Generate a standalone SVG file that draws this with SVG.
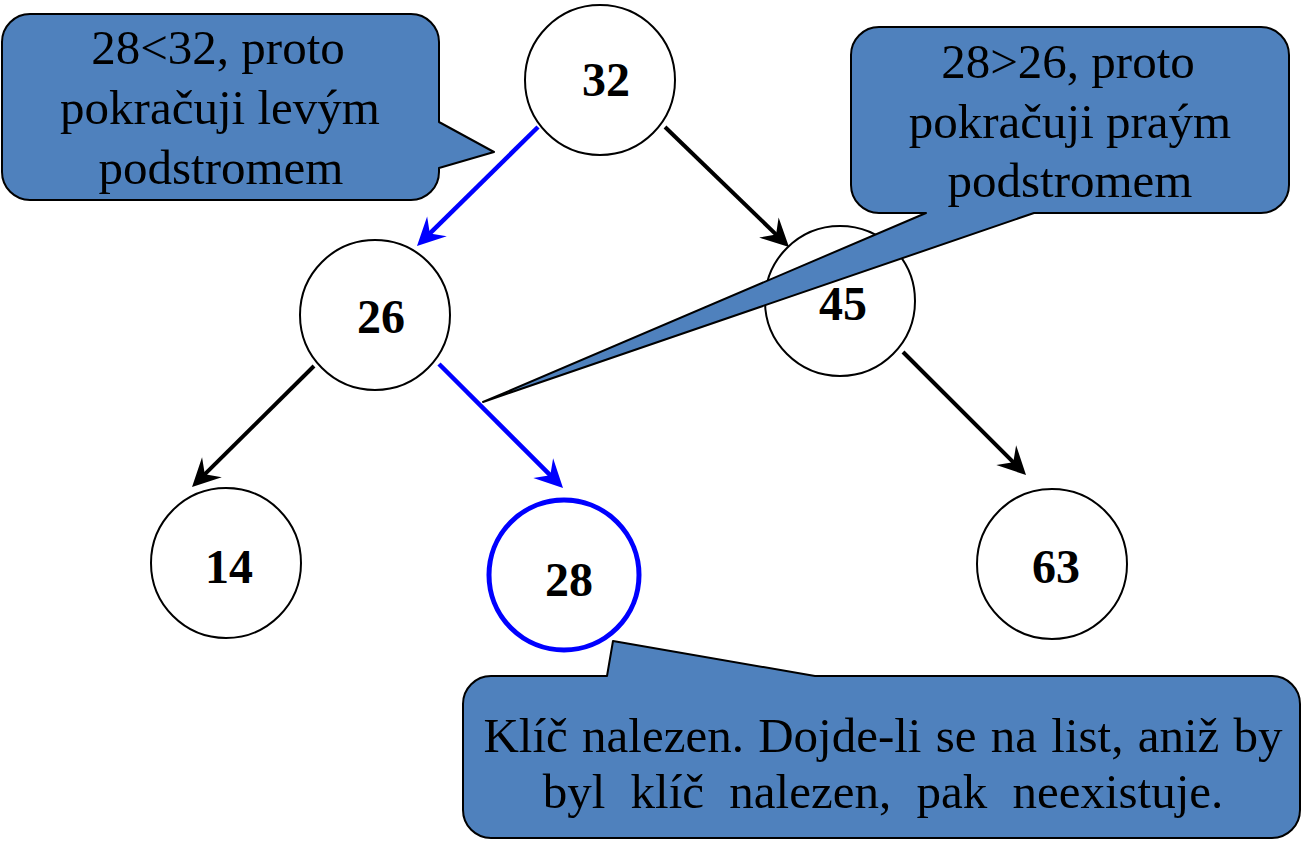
<svg xmlns="http://www.w3.org/2000/svg" width="1311" height="848" viewBox="0 0 1311 848">
<style>
.node{fill:#fff;stroke:#000;stroke-width:2}
.found{fill:#fff;stroke:#0000FF;stroke-width:5}
.lbl{font-family:"Liberation Serif","Times New Roman",serif;font-weight:bold;font-size:48px;text-anchor:middle;fill:#000}
.call{fill:#4F81BD;stroke:#000;stroke-width:2;stroke-linejoin:round}
.ct{font-family:"Liberation Serif","Times New Roman",serif;font-size:49px;text-anchor:middle;fill:#000}
.eb{stroke:#0000FF;stroke-width:4.5;fill:none}
.ek{stroke:#000;stroke-width:4;fill:none}
</style>
<defs>
<marker id="ab" viewBox="-30 -16 32 32" refX="-16" refY="0" markerWidth="32" markerHeight="32" markerUnits="userSpaceOnUse" orient="auto">
<path d="M0,0 L-28,-14 L-18,0 L-28,14 Z" fill="#0000FF"/>
</marker>
<marker id="ak" viewBox="-30 -16 32 32" refX="-16" refY="0" markerWidth="32" markerHeight="32" markerUnits="userSpaceOnUse" orient="auto">
<path d="M0,0 L-28,-14 L-18,0 L-28,14 Z" fill="#000"/>
</marker>
</defs>
<g id="connectors">
<line class="eb" x1="538" y1="127" x2="428.4" y2="234.8" marker-end="url(#ab)"/>
<line class="ek" x1="665" y1="127" x2="777.5" y2="235.9" marker-end="url(#ak)"/>
<line class="ek" x1="314" y1="366" x2="203.4" y2="475.7" marker-end="url(#ak)"/>
<line class="eb" x1="439" y1="364" x2="551.7" y2="476.7" marker-end="url(#ab)"/>
<line class="ek" x1="903" y1="352" x2="1014.7" y2="463.7" marker-end="url(#ak)"/>
</g>
<g id="n32"><circle class="node" cx="600" cy="80" r="75"/><text class="lbl" x="606" y="96">32</text></g>
<g id="n26"><circle class="node" cx="375" cy="315" r="75"/><text class="lbl" x="381" y="333">26</text></g>
<g id="n45"><circle class="node" cx="840" cy="301" r="75"/><text class="lbl" x="843" y="320">45</text></g>
<g id="n14"><circle class="node" cx="226" cy="563" r="75"/><text class="lbl" x="229" y="583">14</text></g>
<g id="n28"><circle class="found" cx="564" cy="575" r="75"/><text class="lbl" x="569" y="596">28</text></g>
<g id="n63"><circle class="node" cx="1052" cy="564" r="75"/><text class="lbl" x="1056" y="583">63</text></g>
<g id="callout1">
<path class="call" d="M30,14 H411 A28,28 0 0 1 439,42 V122 L494,152 L439,168 V172 A28,28 0 0 1 411,200 H30 A28,28 0 0 1 2,172 V42 A28,28 0 0 1 30,14 Z"/>
<text class="ct" x="218" y="64">28&lt;32, proto</text>
<text class="ct" x="220" y="124">pokračuji levým</text>
<text class="ct" x="221" y="184">podstromem</text>
</g>
<g id="callout2">
<path class="call" d="M879,27 H1261 A28,28 0 0 1 1289,55 V185 A28,28 0 0 1 1261,213 H1034 L483,402 L926,213 H879 A28,28 0 0 1 851,185 V55 A28,28 0 0 1 879,27 Z"/>
<text class="ct" x="1068" y="78">28&gt;26, proto</text>
<text class="ct" x="1070" y="138">pokračuji praým</text>
<text class="ct" x="1070" y="197">podstromem</text>
</g>
<g id="callout3">
<path class="call" d="M491,676 H607 L613,641 L815,676 H1272 A28,28 0 0 1 1300,704 V810 A28,28 0 0 1 1272,838 H491 A28,28 0 0 1 463,810 V704 A28,28 0 0 1 491,676 Z"/>
<text class="ct" x="883" y="752" word-spacing="2">Klíč nalezen. Dojde-li se na list, aniž by</text>
<text class="ct" x="883" y="808" word-spacing="13">byl klíč nalezen, pak neexistuje.</text>
</g>
</svg>
